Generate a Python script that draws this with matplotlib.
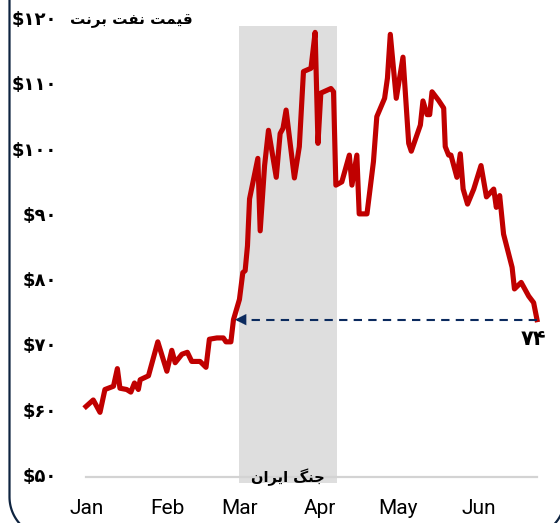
import numpy as np
import matplotlib
matplotlib.use('Agg')
import matplotlib.pyplot as plt
from matplotlib.patches import Rectangle

# day of year (Jan 1 = 1) and Brent price
days = [0.6, 3.4, 6.0, 7.9, 11.2, 12.7, 13.7, 16.3, 17.9, 19.3, 20.8, 21.5, 24.7,
        28.3, 31.8, 33.7, 35.0, 37.6, 39.7, 41.4, 44.6, 46.9, 48.2, 51.1, 53.6,
        54.6, 56.5, 57.5, 59.8, 61.1, 62.0, 62.9, 63.7, 66.9, 67.8, 69.5, 71.0,
        74.0, 75.5, 76.6, 77.8, 81.0, 82.9, 84.5, 87.4, 89.0, 90.1, 91.2, 95.1,
        96.1, 97.0, 99.3, 102.2, 103.2, 105.1, 106.0, 109.0, 111.5, 112.8, 115.8,
        116.9, 118.0, 120.3, 122.9, 125.1, 126.1, 129.6, 130.6, 132.2, 133.2,
        134.1, 136.6, 138.6, 139.2, 140.5, 141.4, 143.7, 145.0, 146.1, 147.8,
        150.2, 153.0, 155.1, 157.9, 158.9, 160.2, 161.7, 165.0, 165.9, 168.5,
        171.4, 173.3, 174.6]
price = [60.5, 61.5, 59.6, 63.1, 63.6, 66.3, 63.3, 63.1, 62.7, 64.1, 63.1, 64.6, 65.2,
         70.4, 65.9, 69.1, 67.2, 68.5, 68.8, 67.4, 67.4, 66.5, 70.8, 71.0, 71.0,
         70.4, 70.4, 73.8, 76.9, 81.0, 81.3, 85.1, 92.3, 98.5, 87.4, 97.4, 102.8,
         95.6, 102.3, 103.1, 105.9, 95.5, 100.3, 111.8, 112.3, 117.8, 100.8, 108.5, 109.2,
         108.7, 94.4, 94.9, 99.0, 94.4, 99.0, 90.0, 90.0, 98.0, 104.9, 107.7,
         110.8, 117.5, 107.7, 114.0, 100.8, 99.6, 103.6, 107.3, 105.2, 105.2,
         108.7, 107.4, 106.2, 100.3, 99.0, 99.0, 95.6, 99.2, 93.8, 91.5,
         93.8, 97.4, 92.6, 93.8, 91.0, 92.8, 86.9, 81.8, 78.5, 79.5,
         77.4, 76.4, 73.8]

month_days = [1, 32, 60, 91, 121, 152]
month_labels = ['Jan', 'Feb', 'Mar', 'Apr', 'May', 'Jun']
y_ticks = [50, 60, 70, 80, 90, 100, 110, 120]
war_start, war_end = 59.7, 97.5

title = 'قیمت نفت برنت'
war_label = 'جنگ ایران'

RED = '#c00000'
NAVY = '#0b2a5e'
FA_DIGITS = str.maketrans('0123456789', '۰۱۲۳۴۵۶۷۸۹')

# isolated, final, initial, medial (None = letter does not join the next one)
FORMS = {
    'ا': ('\uFE8D', '\uFE8E', None, None),
    'ر': ('\uFEAD', '\uFEAE', None, None),
    'ب': ('\uFE8F', '\uFE90', '\uFE91', '\uFE92'),
    'ت': ('\uFE95', '\uFE96', '\uFE97', '\uFE98'),
    'ج': ('\uFE9D', '\uFE9E', '\uFE9F', '\uFEA0'),
    'ف': ('\uFED1', '\uFED2', '\uFED3', '\uFED4'),
    'ق': ('\uFED5', '\uFED6', '\uFED7', '\uFED8'),
    'م': ('\uFEE1', '\uFEE2', '\uFEE3', '\uFEE4'),
    'ن': ('\uFEE5', '\uFEE6', '\uFEE7', '\uFEE8'),
    'گ': ('\uFB92', '\uFB93', '\uFB94', '\uFB95'),
    'ی': ('\uFBFC', '\uFBFD', '\uFBFE', '\uFBFF'),
}


def shape(text):
    # matplotlib has no arabic shaping, so pick the joined forms by hand
    out = []
    for i, ch in enumerate(text):
        if ch not in FORMS:
            out.append(ch)
            continue
        prev = text[i - 1] if i > 0 else ''
        nxt = text[i + 1] if i + 1 < len(text) else ''
        iso, fin, ini, med = FORMS[ch]
        join_prev = prev in FORMS and FORMS[prev][2] is not None
        join_next = ini is not None and nxt in FORMS
        if join_prev and join_next:
            out.append(med)
        elif join_prev:
            out.append(fin)
        elif join_next:
            out.append(ini)
        else:
            out.append(iso)
    return ''.join(reversed(out))


fig = plt.figure(figsize=(5.6, 5.23), dpi=100)

# full-figure overlay in pixel units (y down) for the dark rounded frame
bg = fig.add_axes([0, 0, 1, 1])
bg.set_xlim(0, 560)
bg.set_ylim(523, 0)
bg.axis('off')
left, right, bottom, r = 9.5, 565, 537, 40
t = np.linspace(0, np.pi / 2, 30)
fx = np.concatenate([[left], left + r - r * np.cos(t), right - r + r * np.sin(t), [right]])
fy = np.concatenate([[-5], bottom - r + r * np.sin(t), bottom - r + r * np.cos(t), [-5]])
bg.plot(fx, fy, color='#0f2440', lw=1.6, clip_on=True)

ax = fig.add_axes([86 / 560, 46 / 523, 451 / 560, 459 / 523])
ax.patch.set_alpha(0)

ax.add_patch(Rectangle((war_start, 48.8), war_end - war_start, 70.0,
                       facecolor='#dedede', edgecolor='none', zorder=0, clip_on=False))
ax.plot(days, price, color=RED, lw=3.7, solid_joinstyle='round', zorder=3, clip_on=False)

last = price[-1]
ax.plot([days[-1], 58.8], [last, last], color=NAVY, lw=1.5, dashes=(4, 3), zorder=4)
ax.annotate('', xy=(57.0, last), xytext=(60.0, last),
            arrowprops=dict(arrowstyle='-|>', color=NAVY, lw=0.1, mutation_scale=20), zorder=4)
ax.text(days[-1] - 1.5, last - 3.0, str(round(last)).translate(FA_DIGITS),
        ha='center', va='center', fontsize=15, fontweight='bold', family='DejaVu Sans')

ax.text((war_start + war_end) / 2, 49.6, shape(war_label), ha='center', va='center',
        fontsize=10.5, fontweight='bold', family='DejaVu Sans', zorder=5)

ax.set_xlim(days[0], days[-1])
ax.set_ylim(49.7, 120)
ax.set_xticks(month_days)
ax.set_xticklabels(month_labels, family='Roboto', fontsize=15)
ax.set_yticks(y_ticks)
ax.set_yticklabels(['$' + str(v).translate(FA_DIGITS) for v in y_ticks],
                   family='DejaVu Sans', fontsize=13, fontweight='bold')
ax.tick_params(axis='x', length=0, pad=16)
ax.tick_params(axis='y', length=0, pad=21)
for side in ['top', 'right', 'left']:
    ax.spines[side].set_visible(False)
ax.spines['bottom'].set_color('#d3d3d3')
ax.spines['bottom'].set_linewidth(1.6)

fig.text(193 / 560, 1 - 20 / 523, shape(title), ha='right', va='center',
         fontsize=11, fontweight='bold', family='DejaVu Sans')

fig.savefig('out.png', dpi=100)
